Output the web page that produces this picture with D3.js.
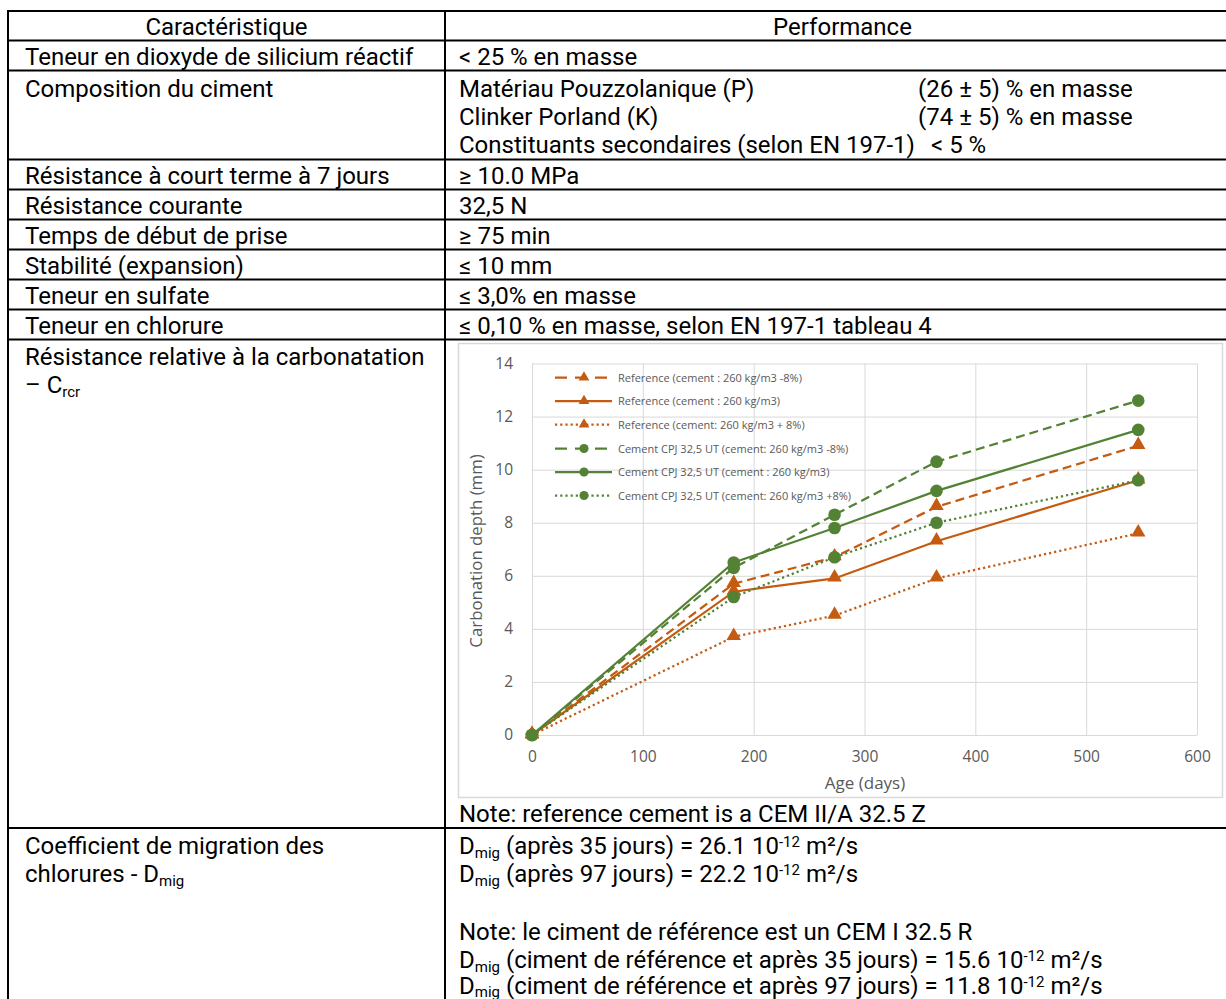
<!DOCTYPE html>
<html><head><meta charset="utf-8">
<script src="https://cdn.jsdelivr.net/npm/d3@7"></script>
<style>body{margin:0;background:#fff}svg{display:block}</style>
</head><body>
<svg id="c" width="1226" height="999"></svg>
<script>
// ---- chart data ----
const ages = [0, 182, 273, 365, 547];
const refMinus8 = [0, 5.7, 6.7, 8.6, 10.9];
const refBase   = [0, 5.4, 5.9, 7.3, 9.6];
const refPlus8  = [0, 3.7, 4.5, 5.9, 7.6];
const cpjMinus8 = [0, 6.3, 8.3, 10.3, 12.6];
const cpjBase   = [0, 6.5, 7.8, 9.2, 11.5];
const cpjPlus8  = [0, 5.2, 6.7, 8.0, 9.6];
const seriesNames = [
  "Reference (cement : 260 kg/m3 -8%)",
  "Reference (cement : 260 kg/m3)",
  "Reference (cement: 260 kg/m3 + 8%)",
  "Cement CPJ 32,5 UT (cement: 260 kg/m3 -8%)",
  "Cement CPJ 32,5 UT (cement : 260 kg/m3)",
  "Cement CPJ 32,5 UT (cement: 260 kg/m3 +8%)"
];
const xTicks = [0, 100, 200, 300, 400, 500, 600];
const yTicks = [0, 2, 4, 6, 8, 10, 12, 14];

// ---- table text ----
const leftRows = [
  "Teneur en dioxyde de silicium réactif",
  "Composition du ciment",
  "Résistance à court terme à 7 jours",
  "Résistance courante",
  "Temps de début de prise",
  "Stabilité (expansion)",
  "Teneur en sulfate",
  "Teneur en chlorure"
];
const simpleRight = ["< 25 % en masse", null, "≥ 10.0 MPa", "32,5 N", "≥ 75 min", "≤ 10 mm", "≤ 3,0% en masse", "≤ 0,10 % en masse, selon EN 197-1 tableau 4"];

const svg = d3.select("#c");
svg.append("rect").attr("width",1226).attr("height",999).attr("fill","#fff");

const FONT = "Roboto, 'Noto Sans', sans-serif";
const FS = 24;
const SUB = 15;
const colL = 8, colM = 445, colR = 1240;
const hLines = [11, 40.5, 70.5, 159.5, 189.5, 219.5, 249.5, 279.5, 309.5, 339.5, 828];
const leftY = [56, 88, 175, 205, 235, 265, 295, 325];

function txt(x, y, s, anchor) {
  return svg.append("text").attr("x", x).attr("y", y).attr("font-family", FONT)
    .attr("font-size", FS).attr("fill", "#000").attr("text-anchor", anchor || "start").text(s);
}
const BL = 8.5; // baseline offset from row centre

txt((colL+colM)/2, 26+BL, "Caractéristique", "middle");
txt((colM+colR)/2, 26+BL, "Performance", "middle");
leftRows.forEach((r,i)=> txt(25, leftY[i]+BL, r));
simpleRight.forEach((s,i)=> { if (s) txt(459, leftY[i]+BL, s); });
txt(459, 88+BL, "Matériau Pouzzolanique (P)");
txt(918, 88+BL, "(26 ± 5) % en masse");
txt(459, 116+BL, "Clinker Porland (K)");
txt(918, 116+BL, "(74 ± 5) % en masse");
txt(459, 144+BL, "Constituants secondaires (selon EN 197-1)");
txt(931, 144+BL, "< 5 %");
txt(25, 356+BL, "Résistance relative à la carbonatation");
const crcr = txt(25, 384+BL, "– C");
crcr.append("tspan").attr("font-size", SUB).attr("dy", 4).text("rcr");
txt(459, 813+BL, "Note: reference cement is a CEM II/A 32.5 Z");
txt(25, 845+BL, "Coefficient de migration des");
const cl = txt(25, 873+BL, "chlorures - D");
cl.append("tspan").attr("font-size", SUB).attr("dy", 4).text("mig");

function dmig(y, pre, val, sd) {
  const t = txt(459, y+BL, "D");
  t.append("tspan").attr("font-size", SUB).attr("dy", sd).text("mig");
  t.append("tspan").attr("dy", -sd).text(" " + pre + " = " + val + " 10");
  t.append("tspan").attr("font-size", SUB).attr("dy", -7).text("-12");
  t.append("tspan").attr("dy", 7).text(" m²/s");
}
dmig(845, "(après 35 jours)", "26.1", 4);
dmig(873, "(après 97 jours)", "22.2", 4);
txt(459, 931+BL, "Note: le ciment de référence est un CEM I 32.5 R");
dmig(959, "(ciment de référence et après 35 jours)", "15.6", 4);
dmig(985, "(ciment de référence et après 97 jours)", "11.8", 3);

// ---- chart ----
const CF = "'Open Sans', 'Noto Sans', sans-serif";
svg.append("rect").attr("x", 458.5).attr("y", 343.5).attr("width", 764).attr("height", 454)
  .attr("fill", "#fff").attr("stroke", "#d9d9d9").attr("stroke-width", 1.5);

const x = d3.scaleLinear().domain([0, 600]).range([532, 1197]);
const y = d3.scaleLinear().domain([0, 14]).range([735, 363.5]);
const g = svg.append("g");
g.append("g").attr("transform", "translate(0,735)")
  .call(d3.axisBottom(x).tickValues(xTicks).tickSize(-(735-363.5)).tickFormat(d3.format("d")).tickPadding(16))
  .call(a => { a.select(".domain").remove(); a.selectAll("line").attr("stroke","#d9d9d9");
    a.selectAll("text").attr("font-family", CF).attr("font-size", 15.5).attr("fill","#595959"); });
g.append("g").attr("transform", "translate(532,0)")
  .call(d3.axisLeft(y).tickValues(yTicks).tickSize(-(1197-532)).tickFormat(d3.format("d")).tickPadding(19))
  .call(a => { a.select(".domain").remove(); a.selectAll("line").attr("stroke","#d9d9d9");
    a.selectAll("text").attr("font-family", CF).attr("font-size", 15.5).attr("fill","#595959"); });

svg.append("text").attr("transform","translate(482,551) rotate(-90)").attr("text-anchor","middle")
  .attr("font-family", CF).attr("font-size", 16.8).attr("fill","#595959").text("Carbonation depth (mm)");
svg.append("text").attr("x", 865).attr("y", 789).attr("text-anchor","middle")
  .attr("font-family", CF).attr("font-size", 17).attr("fill","#595959").text("Age (days)");

const ORANGE = "#c55a11", GREEN = "#548235";
const styles = { dash: "9,5", solid: null, dot: "2.2,3" };
const series = [
  {vals: refMinus8, color: ORANGE, dash: styles.dash, m: "tri"},
  {vals: refBase,   color: ORANGE, dash: styles.solid, m: "tri"},
  {vals: refPlus8,  color: ORANGE, dash: styles.dot, m: "tri"},
  {vals: cpjMinus8, color: GREEN, dash: styles.dash, m: "circ"},
  {vals: cpjBase,   color: GREEN, dash: styles.solid, m: "circ"},
  {vals: cpjPlus8,  color: GREEN, dash: styles.dot, m: "circ"}
];
const line = d3.line().x((d,i)=>x(ages[i])).y(d=>y(d));
const triSym = d3.symbol().type(d3.symbolTriangle).size(90);
const circSym = d3.symbol().type(d3.symbolCircle).size(125);
const drawOrder = [2,1,0,5,3,4];
drawOrder.forEach(k => {
  const s = series[k];
  g.append("path").datum(s.vals).attr("d", line).attr("fill","none")
    .attr("stroke", s.color).attr("stroke-width", 2.25).attr("stroke-dasharray", s.dash);
  g.selectAll(null).data(s.vals).enter().append("path")
    .attr("d", s.m === "tri" ? triSym : circSym)
    .attr("transform", (d,i)=>`translate(${x(ages[i])},${y(d) + (s.m==="tri"? -1:0)})`)
    .attr("fill", s.color);
});

// legend
const legY = [377.5, 401, 424.5, 448.5, 472, 495.5];
series.forEach((s,i) => {
  const lg = svg.append("g").attr("transform", `translate(0,${legY[i]})`);
  lg.append("line").attr("x1", 555).attr("x2", 612).attr("stroke", s.color)
    .attr("stroke-width", 2.25).attr("stroke-dasharray", s.dash === styles.dash ? "12,8" : s.dash);
  lg.append("path").attr("d", s.m==="tri" ? d3.symbol().type(d3.symbolTriangle).size(50)() : d3.symbol().type(d3.symbolCircle).size(65)())
    .attr("transform","translate(584,0)").attr("fill", s.color);
  lg.append("text").attr("x", 618).attr("y", 4).attr("font-family", CF).attr("font-size", 11)
    .attr("fill","#595959").text(seriesNames[i]);
});

// table lines
const tl = svg.append("g").attr("stroke","#000").attr("stroke-width",2);
hLines.forEach(yy => tl.append("line").attr("x1", colL-1).attr("x2", 1226).attr("y1", yy).attr("y2", yy));
tl.append("line").attr("x1", colL).attr("x2", colL).attr("y1", 10).attr("y2", 999);
tl.append("line").attr("x1", colM).attr("x2", colM).attr("y1", 10).attr("y2", 999);
</script></body></html>
